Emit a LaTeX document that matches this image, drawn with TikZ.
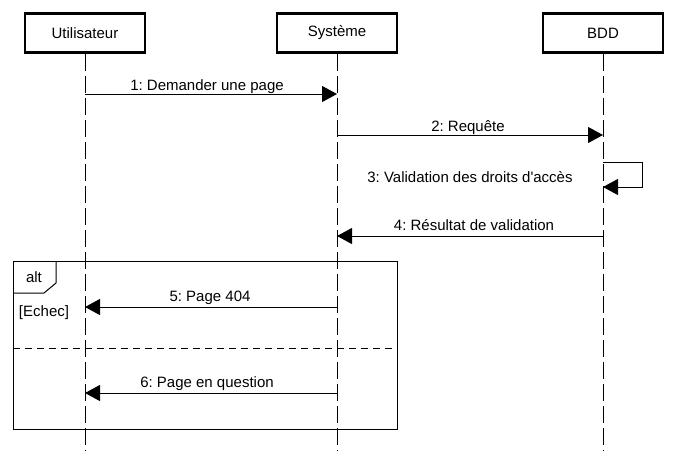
\documentclass[tikz,border=0pt]{standalone}
\usepackage{fontspec}
\newfontfamily\arialf{Liberation Sans}
\usetikzlibrary{arrows.meta}
\begin{document}
\begin{tikzpicture}[x=1pt,y=-1pt,
  actor/.style={draw,line width=2.6pt,minimum width=120pt,minimum height=39pt,inner sep=0pt,font=\arialf\frenchspacing\fontsize{15}{17}\selectfont},
  lifeline/.style={draw,line width=1pt,dash pattern=on 17pt off 5pt},
  msg/.style={draw,line width=1pt,-{Triangle[length=15pt,width=16pt]}},
  lbl/.style={font=\arialf\frenchspacing\fontsize{15}{17}\selectfont,inner sep=0pt,anchor=base},
  frame/.style={draw,line width=1pt}]
\useasboundingbox (0,0) rectangle (676,450);
% actors
\node[actor] (u) at (85,33) {Utilisateur};
\node[actor] (s) at (337,33) {Système};
\node[actor] (b) at (603,33) {BDD};
% lifeline ends
\coordinate (ue) at (85,450);
\coordinate (se) at (337,450);
\coordinate (be) at (603,450);
\draw[lifeline] (u.south) -- (ue);
\draw[lifeline] (s.south) -- (se);
\draw[lifeline] (b.south) -- (be);
% message points
\coordinate (u1) at (85,94);  \coordinate (s1) at (337,94);
\coordinate (s2) at (337,135); \coordinate (b2) at (603,135);
\coordinate (b3a) at (603,162); \coordinate (b3b) at (642,162);
\coordinate (b3c) at (642,187); \coordinate (b3d) at (603,187);
\coordinate (b4) at (603,236); \coordinate (s4) at (337,236);
\coordinate (s5) at (337,307); \coordinate (u5) at (85,307);
\coordinate (s6) at (337,393); \coordinate (u6) at (85,393);
\draw[msg] (u1) -- (s1);
\node[lbl] (l1) at (207,90) {1: Demander une page};
\draw[msg] (s2) -- (b2);
\node[lbl] (l2) at (468,131) {2: Requête};
\draw[msg] (b3a) -- (b3b) -- (b3c) -- (b3d);
\node[lbl] (l3) at (470,182) {3: Validation des droits d'accès};
\draw[msg] (b4) -- (s4);
\node[lbl] (l4) at (474,230) {4: Résultat de validation};
% alt frame
\coordinate (fa) at (13,261); \coordinate (fb) at (397,429);
\draw[frame] (fa) rectangle (fb);
\coordinate (t1) at (56,261); \coordinate (t2) at (56,283);
\coordinate (t3) at (44,293); \coordinate (t4) at (13,293);
\draw[frame] (t1) -- (t2) -- (t3) -- (t4);
\node[lbl] (alt) at (34,282) {alt};
\node[lbl] (g) at (44,316) {[Echec]};
\coordinate (d1) at (13,348); \coordinate (d2) at (397,348);
\draw[frame,dash pattern=on 7pt off 5pt] (d1) -- (d2);
\draw[msg] (s5) -- (u5);
\node[lbl] (l5) at (210,301) {5: Page 404};
\draw[msg] (s6) -- (u6);
\node[lbl] (l6) at (207,387) {6: Page en question};
\end{tikzpicture}
\end{document}
